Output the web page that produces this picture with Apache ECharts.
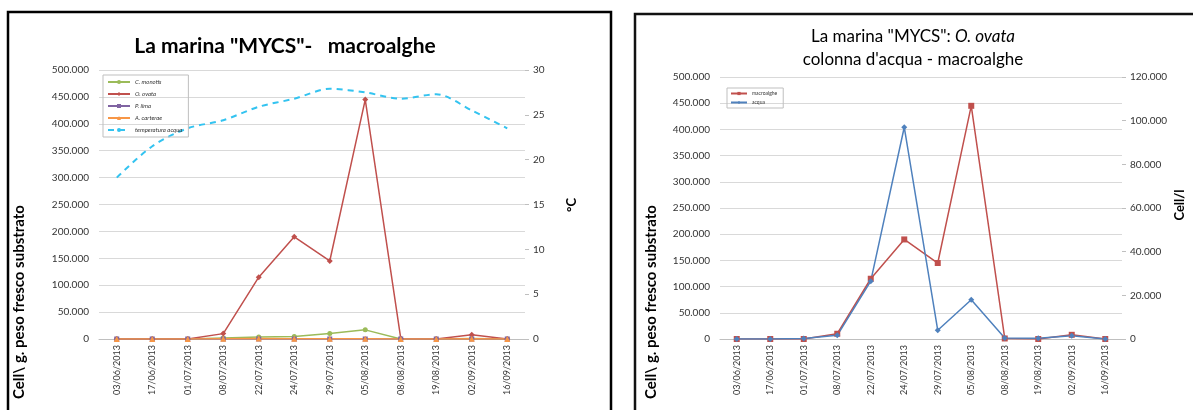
<!DOCTYPE html>
<html>
<head>
<meta charset="utf-8">
<script src="https://cdn.jsdelivr.net/npm/echarts@6/dist/echarts.min.js"></script>
<style>
  html, body { margin: 0; padding: 0; background: #fff; }
  #chart { width: 1193px; height: 410px; }
</style>
</head>
<body>
<div id="chart"></div>
<script>
// date di campionamento
const dates = ['03/06/2013', '17/06/2013', '01/07/2013', '08/07/2013', '22/07/2013', '24/07/2013',
  '29/07/2013', '05/08/2013', '08/08/2013', '19/08/2013', '02/09/2013', '16/09/2013'];

// grafico di sinistra: macroalghe (cell/g)
const cMonotis = [0, 0, 0, 2000, 3500, 4500, 10000, 17000, 0, 0, 1000, 0];
const oOvata = [0, 0, 0, 10000, 115000, 190000, 145000, 445000, 1000, 0, 8000, 0];
const pLima = [0, 0, 0, 0, 0, 0, 0, 0, 0, 0, 0, 0];
const aCarterae = [0, 0, 0, 500, 1000, 500, 500, 500, 0, 0, 500, 0];
const temperatura = [18.0, 21.5, 23.5, 24.4, 25.9, 26.8, 27.9, 27.5, 26.8, 27.3, 25.5, 23.5];

// grafico di destra: O. ovata macroalghe vs acqua (cell/l)
const macroalghe = [0, 0, 0, 10000, 115000, 190000, 145000, 445000, 1000, 0, 8000, 0];
const acqua = [0, 0, 200, 1700, 26500, 97000, 4000, 18000, 500, 300, 1500, 0];

const FONT = 'Lato, "Open Sans", sans-serif';
const GRID_COLOR = '#d9d9d9';
const LABEL_COLOR = '#333';

function migliaia(v) {
  return String(v).replace(/\B(?=(\d{3})+(?!\d))/g, '.');
}

const chart = echarts.init(document.getElementById('chart'));

function catAxis(gi) {
  return {
    type: 'category',
    gridIndex: gi,
    data: dates,
    axisLine: { lineStyle: { color: '#bfbfbf' } },
    axisTick: { show: false },
    axisLabel: { rotate: 90, fontSize: 9, color: LABEL_COLOR, fontFamily: FONT, margin: 6 }
  };
}

function valAxis(gi, pos, max, interval, split, fmt) {
  return {
    type: 'value',
    gridIndex: gi,
    position: pos,
    min: 0,
    max: max,
    interval: interval,
    axisLine: { show: false },
    axisTick: { show: !split, length: 4, lineStyle: { color: '#bfbfbf' } },
    splitLine: { show: split, lineStyle: { color: GRID_COLOR, width: 1 } },
    axisLabel: { fontSize: 10, color: LABEL_COLOR, fontFamily: FONT, margin: split ? 10 : 8,
      formatter: fmt || migliaia }
  };
}

function lineSerie(name, data, color, symbol, xi, yi, extra) {
  return Object.assign({
    name: name,
    type: 'line',
    xAxisIndex: xi,
    yAxisIndex: yi,
    data: data,
    symbol: symbol,
    symbolSize: 6,
    lineStyle: { color: color, width: 1.5 },
    itemStyle: { color: color }
  }, extra || {});
}

chart.setOption({
  animation: false,
  textStyle: { fontFamily: FONT },
  grid: [
    { left: 99, right: 668, top: 70, bottom: 71 },
    { left: 720, right: 71, top: 77, bottom: 71 }
  ],
  xAxis: [catAxis(0), catAxis(1)],
  yAxis: [
    valAxis(0, 'left', 500000, 50000, true),
    valAxis(0, 'right', 30, 5, false, v => String(v)),
    valAxis(1, 'left', 500000, 50000, true),
    valAxis(1, 'right', 120000, 20000, false)
  ],
  legend: [
    {
      data: ['C. monotis', 'O. ovata', 'P. lima', 'A. carterae', 'temperatura acqua'],
      orient: 'vertical',
      left: 103, top: 75,
      itemWidth: 22, itemHeight: 5, itemGap: 6,
      padding: [4, 6, 4, 4],
      borderColor: '#bfbfbf', borderWidth: 1,
      textStyle: { fontSize: 6, fontStyle: 'italic', color: '#333' }
    },
    {
      data: ['macroalghe', 'acqua'],
      orient: 'vertical',
      left: 727, top: 88,
      itemWidth: 16, itemHeight: 4, itemGap: 4,
      padding: [3, 6, 3, 3],
      borderColor: '#bfbfbf', borderWidth: 1,
      textStyle: { fontSize: 5, color: '#333' }
    }
  ],
  graphic: [
    { type: 'rect', shape: { x: 8, y: 12, width: 603, height: 420 },
      style: { fill: 'none', stroke: '#000', lineWidth: 2.5 }, silent: true },
    { type: 'rect', shape: { x: 635, y: 14, width: 600, height: 420 },
      style: { fill: 'none', stroke: '#111', lineWidth: 2.5 }, silent: true },
    { type: 'text', x: 285, y: 46,
      style: { text: 'La marina "MYCS"-   macroalghe', font: 'bold 21px ' + FONT,
        fill: '#000', align: 'center', verticalAlign: 'middle' } },
    { type: 'text', x: 913, y: 37,
      style: { text: '{n|La marina "MYCS": }{i|O. ovata}', align: 'center', verticalAlign: 'middle',
        rich: {
          n: { font: '17px ' + FONT, fill: '#000' },
          i: { font: 'italic 17px ' + FONT, fill: '#000' }
        } } },
    { type: 'text', x: 913, y: 60,
      style: { text: "colonna d'acqua - macroalghe", font: '17px ' + FONT,
        fill: '#000', align: 'center', verticalAlign: 'middle' } },
    { type: 'text', x: 19, y: 302, rotation: Math.PI / 2,
      style: { text: 'Cell\\ g. peso fresco substrato', font: 'bold 15px ' + FONT,
        fill: '#000', align: 'center', verticalAlign: 'middle' } },
    { type: 'text', x: 651, y: 302, rotation: Math.PI / 2,
      style: { text: 'Cell\\ g. peso fresco substrato', font: 'bold 15px ' + FONT,
        fill: '#000', align: 'center', verticalAlign: 'middle' } },
    { type: 'text', x: 572, y: 205, rotation: Math.PI / 2,
      style: { text: '°C', font: 'bold 13px ' + FONT,
        fill: '#000', align: 'center', verticalAlign: 'middle' } },
    { type: 'text', x: 1180, y: 205, rotation: Math.PI / 2,
      style: { text: 'Cell/l', font: 'bold 13px ' + FONT,
        fill: '#000', align: 'center', verticalAlign: 'middle' } }
  ],
  series: [
    lineSerie('C. monotis', cMonotis, '#9bbb59', 'circle', 0, 0, { symbolSize: 5 }),
    lineSerie('O. ovata', oOvata, '#c0504d', 'diamond', 0, 0, { symbolSize: 6 }),
    lineSerie('P. lima', pLima, '#8064a2', 'rect', 0, 0, { symbolSize: 5 }),
    lineSerie('A. carterae', aCarterae, '#f79646', 'triangle', 0, 0, { symbolSize: 6 }),
    lineSerie('temperatura acqua', temperatura, '#33c3f0', 'none', 0, 1, {
      smooth: 0.3,
      lineStyle: { color: '#33c3f0', width: 2, type: [6, 5] }
    }),
    lineSerie('macroalghe', macroalghe, '#c0504d', 'rect', 1, 2, { symbolSize: 6 }),
    lineSerie('acqua', acqua, '#4f81bd', 'diamond', 1, 3, { symbolSize: 6 })
  ]
});
</script>
</body>
</html>
